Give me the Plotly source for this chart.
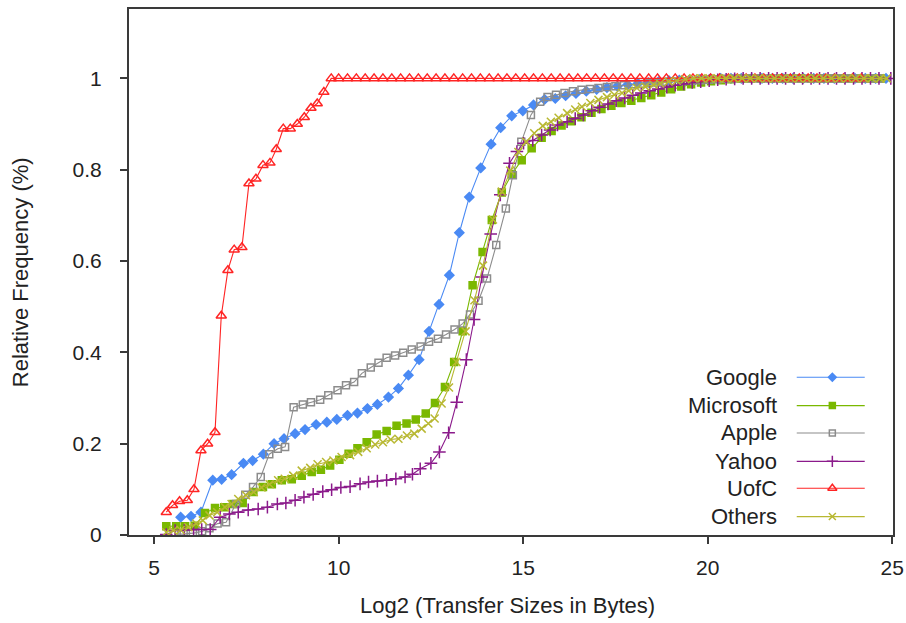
import plotly.graph_objects as go

# ---------------- data ----------------
google_x = [5.72, 6.0, 6.27, 6.59, 6.83, 7.1, 7.42, 7.67, 7.96, 8.25, 8.52, 8.82, 9.09, 9.39, 9.68, 9.95,
            10.24, 10.51, 10.78, 11.05, 11.35, 11.62, 11.89, 12.18, 12.45, 12.72, 13.0, 13.27, 13.54, 13.85,
            14.13, 14.39, 14.69, 14.99, 15.28, 15.58, 15.87, 16.15, 16.43, 16.71, 16.99, 17.27, 17.55, 17.83,
            18.11, 18.39, 18.67, 18.95, 19.23, 19.51, 19.79, 20.07, 20.35, 20.63, 20.91, 21.19, 21.47, 21.75,
            22.03, 22.31, 22.59, 22.87, 23.15, 23.43, 23.71, 23.99, 24.27, 24.55, 24.83]
google_y = [0.039, 0.041, 0.05, 0.12, 0.122, 0.132, 0.157, 0.163, 0.177, 0.20, 0.211, 0.222, 0.231, 0.242, 0.247, 0.253,
            0.262, 0.267, 0.277, 0.286, 0.302, 0.321, 0.35, 0.384, 0.446, 0.505, 0.569, 0.662, 0.74, 0.804,
            0.856, 0.892, 0.918, 0.929, 0.942, 0.954, 0.956, 0.962, 0.967, 0.972, 0.976, 0.98, 0.983, 0.986,
            0.989, 0.991, 0.993, 0.995, 0.996, 0.997, 0.998, 0.999, 1.0, 1.0, 1.0, 1.0, 1.0, 1.0,
            1.0, 1.0, 1.0, 1.0, 1.0, 1.0, 1.0, 1.0, 1.0, 1.0, 1.0]

microsoft_x = [5.33, 5.6, 5.84, 6.1, 6.38, 6.65, 6.9, 7.15, 7.4, 7.69, 7.95, 8.19, 8.46, 8.73, 9.0, 9.27, 9.52,
               9.77, 10.02, 10.27, 10.51, 10.76, 11.03, 11.3, 11.57, 11.84, 12.09, 12.36, 12.61, 12.88, 13.13,
               13.36, 13.63, 13.9, 14.15, 14.42, 14.69, 14.96, 15.23, 15.5, 15.77, 16.04, 16.31, 16.58, 16.85,
               17.12, 17.39, 17.66, 17.93, 18.2, 18.47, 18.74, 19.01, 19.28, 19.55, 19.82, 20.09, 20.36, 20.63,
               20.9, 21.17, 21.44, 21.71, 21.98, 22.25, 22.52, 22.79, 23.06, 23.33, 23.6, 23.87, 24.14, 24.41, 24.68]
microsoft_y = [0.019, 0.019, 0.019, 0.02, 0.048, 0.059, 0.061, 0.068, 0.07, 0.094, 0.105, 0.111, 0.12, 0.122, 0.13,
               0.138, 0.143, 0.152, 0.165, 0.178, 0.19, 0.203, 0.22, 0.228, 0.239, 0.244, 0.253, 0.266, 0.289,
               0.324, 0.379, 0.446, 0.547, 0.62, 0.69, 0.75, 0.79, 0.821, 0.847, 0.87, 0.885, 0.897, 0.906,
               0.915, 0.925, 0.933, 0.94, 0.946, 0.951, 0.957, 0.963, 0.969, 0.976, 0.982, 0.987, 0.991, 0.994,
               0.996, 0.998, 0.999, 1.0, 1.0, 1.0, 1.0, 1.0, 1.0, 1.0, 1.0, 1.0, 1.0, 1.0, 1.0, 1.0, 1.0]

apple_x = [5.55, 5.8, 6.05, 6.3, 6.5, 6.72, 6.95, 7.22, 7.47, 7.68, 7.89, 8.12, 8.35, 8.55, 8.78, 9.03, 9.25,
           9.5, 9.72, 9.97, 10.2, 10.42, 10.63, 10.87, 11.08, 11.3, 11.53, 11.75, 11.98, 12.22, 12.45, 12.69,
           12.91, 13.14, 13.36, 13.56, 13.79, 14.02, 14.27, 14.53, 14.72, 14.95, 15.21, 15.46, 15.66, 15.89,
           16.12, 16.35, 16.58, 16.81, 17.04, 17.27, 17.5, 17.73, 17.96, 18.19, 18.42, 18.65, 18.88, 19.11,
           19.34, 19.57, 19.8, 20.03, 20.26, 20.49, 20.72, 20.95, 21.18, 21.41, 21.64, 21.87, 22.1, 22.33,
           22.56, 22.79, 23.02, 23.25, 23.48, 23.71, 23.94, 24.17, 24.4, 24.63]
apple_y = [0.002, 0.002, 0.004, 0.008, 0.015, 0.025, 0.028, 0.068, 0.088, 0.105, 0.127, 0.177, 0.189, 0.193, 0.28,
           0.286, 0.291, 0.296, 0.306, 0.317, 0.328, 0.335, 0.354, 0.367, 0.377, 0.388, 0.393, 0.399, 0.406,
           0.413, 0.423, 0.43, 0.439, 0.45, 0.463, 0.483, 0.513, 0.562, 0.635, 0.715, 0.788, 0.861, 0.92, 0.949,
           0.959, 0.964, 0.968, 0.972, 0.975, 0.977, 0.979, 0.981, 0.983, 0.985, 0.987, 0.988, 0.99, 0.991,
           0.992, 0.993, 0.994, 0.995, 0.996, 0.997, 0.998, 0.999, 1.0, 1.0, 1.0, 1.0, 1.0, 1.0, 1.0, 1.0,
           1.0, 1.0, 1.0, 1.0, 1.0, 1.0, 1.0, 1.0, 1.0, 1.0]

yahoo_x = [5.33, 5.57, 5.82, 6.07, 6.29, 6.52, 6.79, 7.04, 7.28, 7.55, 7.82, 8.07, 8.34, 8.57, 8.82, 9.06, 9.31,
           9.57, 9.81, 10.06, 10.31, 10.58, 10.81, 11.05, 11.3, 11.55, 11.8, 12.0, 12.21, 12.5, 12.73, 12.98,
           13.2, 13.46, 13.67, 13.88, 14.12, 14.38, 14.63, 14.83, 15.01, 15.26, 15.5, 15.73, 15.93, 16.19,
           16.41, 16.63, 16.86, 17.07, 17.3, 17.52, 17.75, 17.97, 18.2, 18.43, 18.66, 18.89, 19.12, 19.35,
           19.58, 19.81, 20.04, 20.27, 20.5, 20.73, 20.96, 21.19, 21.42, 21.65, 21.88, 22.11, 22.34, 22.57,
           22.8, 23.03, 23.26, 23.49, 23.72, 23.95, 24.18, 24.41, 24.64, 24.96]
yahoo_y = [0.001, 0.01, 0.011, 0.012, 0.012, 0.012, 0.039, 0.046, 0.05, 0.055, 0.057, 0.061, 0.068, 0.07, 0.076,
           0.083, 0.089, 0.095, 0.099, 0.104, 0.106, 0.112, 0.116, 0.118, 0.12, 0.123, 0.127, 0.133, 0.145, 0.157,
           0.182, 0.224, 0.291, 0.384, 0.472, 0.565, 0.659, 0.745, 0.814, 0.84, 0.858, 0.864, 0.876, 0.887,
           0.898, 0.905, 0.912, 0.92, 0.929, 0.937, 0.944, 0.951, 0.957, 0.963, 0.968, 0.973, 0.977, 0.981,
           0.985, 0.988, 0.991, 0.993, 0.995, 0.997, 0.998, 0.999, 1.0, 1.0, 1.0, 1.0, 1.0, 1.0, 1.0, 1.0,
           1.0, 1.0, 1.0, 1.0, 1.0, 1.0, 1.0, 1.0, 1.0, 1.0]

uofc_x = [5.33, 5.5, 5.69, 5.9, 6.08, 6.27, 6.45, 6.65, 6.82, 7.0, 7.17, 7.38, 7.57, 7.76, 7.95, 8.14, 8.31,
          8.5, 8.69, 8.88, 9.07, 9.25, 9.42, 9.6, 9.8, 10.0, 10.24, 10.48, 10.72, 10.96, 11.2, 11.44, 11.68,
          11.92, 12.16, 12.4, 12.64, 12.88, 13.12, 13.36, 13.6, 13.84, 14.08, 14.32, 14.56, 14.8, 15.04,
          15.28, 15.52, 15.76, 16.0, 16.24, 16.48, 16.72, 16.96, 17.2, 17.44, 17.68, 17.92, 18.16, 18.4,
          18.64, 18.88, 19.12, 19.36, 19.6, 19.84, 20.08, 20.32, 20.56, 20.8, 21.04, 21.28, 21.52, 21.76,
          22.0, 22.24, 22.48, 22.72, 22.96, 23.2, 23.44, 23.68, 23.92, 24.16]
uofc_y = [0.05, 0.065, 0.074, 0.076, 0.10, 0.185, 0.20, 0.225, 0.48, 0.58, 0.625, 0.63, 0.77, 0.78, 0.81, 0.815,
          0.845, 0.89, 0.89, 0.90, 0.915, 0.935, 0.945, 0.97, 1.0, 1.0, 1.0, 1.0, 1.0, 1.0, 1.0, 1.0, 1.0,
          1.0, 1.0, 1.0, 1.0, 1.0, 1.0, 1.0, 1.0, 1.0, 1.0, 1.0, 1.0, 1.0, 1.0, 1.0, 1.0, 1.0, 1.0, 1.0, 1.0,
          1.0, 1.0, 1.0, 1.0, 1.0, 1.0, 1.0, 1.0, 1.0, 1.0, 1.0, 1.0, 1.0, 1.0, 1.0, 1.0, 1.0, 1.0, 1.0, 1.0,
          1.0, 1.0, 1.0, 1.0, 1.0, 1.0, 1.0, 1.0, 1.0, 1.0, 1.0, 1.0]

others_x = [5.33, 5.52, 5.72, 5.93, 6.14, 6.32, 6.5, 6.71, 6.92, 7.1, 7.28, 7.49, 7.7, 7.91, 8.13, 8.36, 8.54,
            8.77, 9.0, 9.23, 9.43, 9.66, 9.86, 10.08, 10.31, 10.53, 10.76, 10.99, 11.2, 11.41, 11.62, 11.85,
            12.05, 12.25, 12.43, 12.6, 12.79, 12.99, 13.19, 13.44, 13.68, 13.91, 14.18, 14.42, 14.65, 14.87,
            15.08, 15.3, 15.53, 15.75, 15.96, 16.19, 16.41, 16.59, 16.82, 17.04, 17.27, 17.47, 17.68, 17.86,
            18.08, 18.31, 18.53, 18.71, 18.94, 19.16, 19.39, 19.61, 19.83, 20.05, 20.27, 20.49, 20.71, 20.93,
            21.15, 21.37, 21.59, 21.81, 22.03, 22.25, 22.47, 22.69, 22.91, 23.13, 23.35, 23.57, 23.79, 24.01,
            24.23, 24.45, 24.67, 24.85]
others_y = [0.006, 0.01, 0.011, 0.017, 0.025, 0.032, 0.043, 0.05, 0.061, 0.068, 0.079, 0.087, 0.094, 0.104, 0.111,
            0.12, 0.123, 0.13, 0.141, 0.147, 0.155, 0.16, 0.163, 0.171, 0.175, 0.182, 0.19, 0.198, 0.203, 0.209,
            0.211, 0.218, 0.222, 0.233, 0.244, 0.255, 0.288, 0.323, 0.379, 0.446, 0.514, 0.59, 0.691, 0.752,
            0.798, 0.839, 0.861, 0.88, 0.896, 0.905, 0.914, 0.924, 0.932, 0.938, 0.946, 0.953, 0.959, 0.964,
            0.968, 0.973, 0.979, 0.982, 0.986, 0.989, 0.993, 0.995, 0.998, 1.0, 1.0, 1.0, 1.0, 1.0, 1.0, 1.0,
            1.0, 1.0, 1.0, 1.0, 1.0, 1.0, 1.0, 1.0, 1.0, 1.0, 1.0, 1.0, 1.0, 1.0, 1.0, 1.0, 1.0, 1.0]

series_names = ["Google", "Microsoft", "Apple", "Yahoo", "UofC", "Others"]
x_ticks = [5, 10, 15, 20, 25]
y_ticks = [0, 0.2, 0.4, 0.6, 0.8, 1]
y_tick_labels = ["0", "0.2", "0.4", "0.6", "0.8", "1"]

# ---------------- styles ----------------
colors = ["#4a8af4", "#7ab800", "#8c8c8c", "#8b1a8b", "#ff2424", "#b8b832"]
symbols = ["diamond", "square", "square-open", "cross-thin-open", "triangle-up-open", "x-thin-open"]
sizes = [7, 7, 7, 9, 9, 8]
FONT = "Liberation Sans, Arial, sans-serif"

data = [(google_x, google_y), (microsoft_x, microsoft_y), (apple_x, apple_y),
        (yahoo_x, yahoo_y), (uofc_x, uofc_y), (others_x, others_y)]

fig = go.Figure()
for (xs, ys), name, c, s, sz in zip(data, series_names, colors, symbols, sizes):
    fig.add_trace(go.Scatter(
        x=xs, y=ys, name=name, mode="lines+markers",
        line=dict(color=c, width=1.1),
        marker=dict(symbol=s, size=sz, color=c, line=dict(color=c, width=1.5)),
        showlegend=False))

# ---------------- custom legend (text left, glyph right) ----------------
leg_rows = [0.300, 0.246, 0.194, 0.140, 0.089, 0.035]
leg_text_x = 0.851
leg_line_x0, leg_line_x1, leg_mark_x = 0.874, 0.963, 0.9206
for name, c, s, sz, yy in zip(series_names, colors, symbols, sizes, leg_rows):
    fig.add_annotation(x=leg_text_x, y=yy, xref="paper", yref="paper", text=name,
                       showarrow=False, xanchor="right", yanchor="middle",
                       font=dict(family=FONT, size=22, color="#222222"))
    fig.add_shape(type="line", xref="paper", yref="paper", x0=leg_line_x0, x1=leg_line_x1,
                  y0=yy, y1=yy, line=dict(color=c, width=1.1))
    fig.add_trace(go.Scatter(x=[leg_mark_x], y=[yy], xaxis="x2", yaxis="y2", mode="markers",
                             marker=dict(symbol=s, size=sz - 1, color=c, line=dict(color=c, width=1.5)),
                             showlegend=False, hoverinfo="skip"))

# axis titles
fig.add_annotation(x=0.495, y=-0.134, xref="paper", yref="paper", showarrow=False,
                   text="Log2 (Transfer Sizes in Bytes)", xanchor="center", yanchor="middle",
                   font=dict(family=FONT, size=22, color="#222222"))
fig.add_annotation(x=-0.1427, y=0.4995, xref="paper", yref="paper", showarrow=False,
                   text="Relative Frequency (%)", textangle=-90, xanchor="center", yanchor="middle",
                   font=dict(family=FONT, size=22, color="#222222"))

axis_common = dict(showgrid=False, zeroline=False, showline=True, linecolor="#3a3a3a", linewidth=2,
                   mirror=True, ticks="outside", ticklen=7, tickwidth=1.5, tickcolor="#3a3a3a",
                   automargin=False,
                   tickfont=dict(family=FONT, size=21, color="#222222"))

fig.update_layout(
    width=906, height=623,
    margin=dict(l=129, r=13, t=9, b=88, autoexpand=False),
    paper_bgcolor="white", plot_bgcolor="white",
    xaxis=dict(range=[4.32, 25.02], tickvals=x_ticks, ticklabelstandoff=6, **axis_common),
    yaxis=dict(range=[0, 1.152], tickvals=y_ticks, ticktext=y_tick_labels, ticklabelstandoff=14, **axis_common),
    xaxis2=dict(range=[0, 1], overlaying="x", visible=False, fixedrange=True),
    yaxis2=dict(range=[0, 1], overlaying="y", visible=False, fixedrange=True),
    font=dict(family=FONT),
)

fig.write_html("out.html")
